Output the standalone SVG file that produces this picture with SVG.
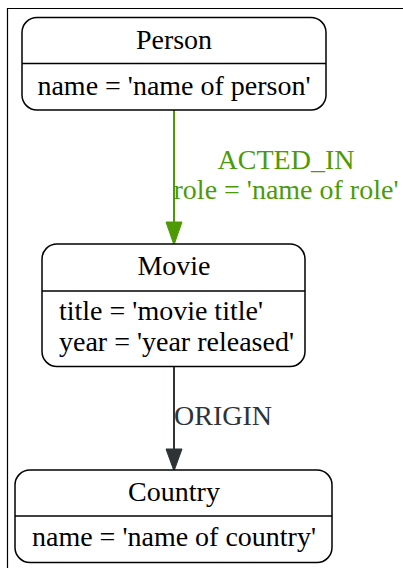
<svg xmlns="http://www.w3.org/2000/svg" width="403" height="568" viewBox="0 0 403 568">
<style>
.box{fill:#fff;stroke:#000;stroke-width:1.5}
.div{stroke:#000;stroke-width:1.5}
text{font-family:"Liberation Serif","Times New Roman",serif;font-size:28px}
.c{text-anchor:middle}
.e1{stroke:#4e9a06;stroke-width:2;fill:none}
.e2{stroke:#2e3436;stroke-width:2;fill:none}
</style>
<rect width="403" height="568" fill="#fff"/>
<path d="M7.5 568 V8.5 H403" fill="none" stroke="#000" stroke-width="1.2"/>
<g id="connectors">
<g id="e-acted">
<line class="e1" x1="174" y1="110" x2="174" y2="224"/>
<polygon points="166,222 182,222 174,245" fill="#4e9a06" stroke="#4e9a06"/>
<text class="c" x="286" y="169" fill="#4e9a06">ACTED_IN</text>
<text class="c" x="286" y="199" fill="#4e9a06">role = 'name of role'</text>
</g>
<g id="e-origin">
<line class="e2" x1="174" y1="367" x2="174" y2="450"/>
<polygon points="166,449 182,449 174,471" fill="#2e3436" stroke="#2e3436"/>
<text x="174" y="425" fill="#2e3436">ORIGIN</text>
</g>
</g>
<g id="person">
<rect class="box" x="22" y="17.5" width="304" height="92.5" rx="15"/>
<line class="div" x1="22" y1="63.5" x2="326" y2="63.5"/>
<text class="c" x="174" y="49">Person</text>
<text class="c" x="174" y="95">name = 'name of person'</text>
</g>
<g id="movie">
<rect class="box" x="42" y="244" width="263" height="122.5" rx="15"/>
<line class="div" x1="42" y1="291" x2="305" y2="291"/>
<text class="c" x="174" y="275">Movie</text>
<text x="59" y="320">title = 'movie title'</text>
<text x="59" y="351">year = 'year released'</text>
</g>
<g id="country">
<rect class="box" x="15" y="470" width="317" height="92.5" rx="15"/>
<line class="div" x1="15" y1="516" x2="332" y2="516"/>
<text class="c" x="174" y="501">Country</text>
<text class="c" x="174" y="546">name = 'name of country'</text>
</g>
</svg>
